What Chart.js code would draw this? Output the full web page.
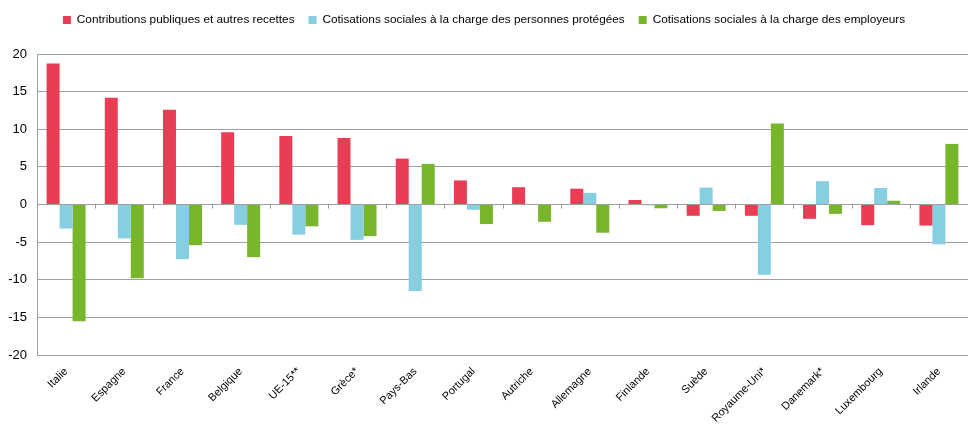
<!DOCTYPE html>
<html>
<head>
<meta charset="utf-8">
<script src="https://cdn.jsdelivr.net/npm/chart.js@4"></script>
<style>
  html, body { margin: 0; padding: 0; background: #fff; }
  #wrap { width: 968px; height: 429px; }
</style>
</head>
<body>
<div id="wrap"><canvas id="chart" width="968" height="429"></canvas></div>
<script>
const countries = ["Italie", "Espagne", "France", "Belgique", "UE-15**", "Grèce*", "Pays-Bas", "Portugal",
  "Autriche", "Allemagne", "Finlande", "Suède", "Royaume-Uni*", "Danemark*", "Luxembourg", "Irlande"];
const contributions = [18.75, 14.2, 12.6, 9.6, 9.1, 8.85, 6.1, 3.2, 2.3, 2.1, 0.6, -1.5, -1.5, -1.9, -2.75, -2.8];
const cotisProtegees = [-3.2, -4.5, -7.25, -2.7, -4.0, -4.7, -11.5, -0.7, 0, 1.55, -0.1, 2.25, -9.35, 3.1, 2.2, -5.3];
const cotisEmployeurs = [-15.5, -9.8, -5.4, -7.0, -2.9, -4.2, 5.4, -2.6, -2.3, -3.75, -0.5, -0.85, 10.75, -1.25, 0.5, 8.05];
const yTicks = [20, 15, 10, 5, 0, -5, -10, -15, -20];

const FONT = "'Liberation Sans', Arial, sans-serif";
Chart.defaults.font.family = FONT;
Chart.defaults.color = "#000";

// small tick marks on the zero line between categories
const zeroTicks = {
  id: "zeroTicks",
  afterDatasetsDraw(chart) {
    const { ctx, scales: { x, y } } = chart;
    const y0 = y.getPixelForValue(0);
    ctx.save();
    ctx.strokeStyle = "#999";
    ctx.lineWidth = 1;
    ctx.beginPath();
    for (let i = 1; i < countries.length; i++) {
      const px = Math.round((x.getPixelForValue(i - 1) + x.getPixelForValue(i)) / 2) + 0.5;
      ctx.moveTo(px, y0);
      ctx.lineTo(px, y0 + 4);
    }
    ctx.stroke();
    ctx.restore();
  },
};

new Chart(document.getElementById("chart"), {
  type: "bar",
  data: {
    labels: countries,
    datasets: [
      { label: "Contributions publiques et autres recettes", data: contributions, backgroundColor: "#e83d54" },
      { label: "Cotisations sociales à la charge des personnes protégées", data: cotisProtegees, backgroundColor: "#86cee2" },
      { label: "Cotisations sociales à la charge des employeurs", data: cotisEmployeurs, backgroundColor: "#77b52a" },
    ],
  },
  options: {
    responsive: false,
    animation: false,
    datasets: { bar: { barPercentage: 1, categoryPercentage: 0.67, borderWidth: 0 } },
    layout: { padding: { top: 0, right: 0, left: 0, bottom: 0 } },
    plugins: {
      legend: {
        position: "top",
        labels: { boxWidth: 8, boxHeight: 8, padding: 14, font: { size: 11.8 } },
      },
      // empty spacer between legend and plot
      subtitle: { display: true, text: "", weight: 500, font: { size: 1 }, padding: { top: 0, bottom: 17 } },
      tooltip: { enabled: false },
    },
    scales: {
      x: {
        grid: { display: false },
        border: { display: false },
        ticks: { maxRotation: 45, minRotation: 45, font: { size: 11 }, padding: 2 },
        afterFit: (scale) => { scale.height = 74; },
      },
      y: {
        min: -20,
        max: 20,
        afterBuildTicks: (axis) => { axis.ticks = yTicks.map((v) => ({ value: v })); },
        grid: { color: "#a0a0a0", lineWidth: 1, drawTicks: false },
        border: { display: true, color: "#a0a0a0" },
        ticks: { font: { size: 13 }, padding: 10 },
        afterFit: (scale) => { scale.width = 37; },
      },
    },
  },
  plugins: [zeroTicks],
});
</script>
</body>
</html>
